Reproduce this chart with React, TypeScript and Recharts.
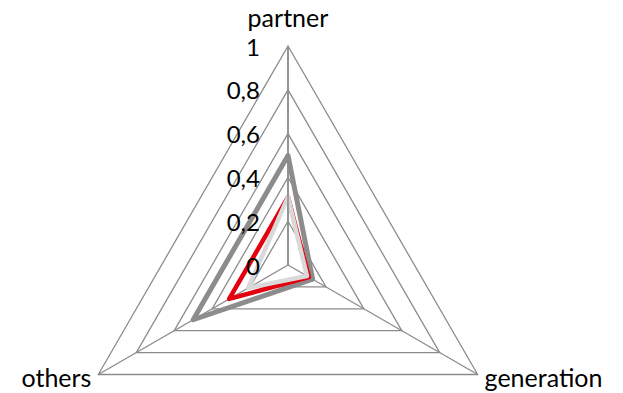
import { RadarChart, Radar, PolarGrid, PolarAngleAxis, PolarRadiusAxis } from "recharts"

const categories = ["partner", "generation", "others"]
const seriesA = [0.5, 0.13, 0.5]
const seriesB = [0.31, 0.11, 0.31]
const seriesC = [0.31, 0.1, 0.21]
const radiusTicks = [0, 0.2, 0.4, 0.6, 0.8, 1]

const data = categories.map((name, i) => ({
  name,
  a: seriesA[i],
  b: seriesB[i],
  c: seriesC[i],
}))

const font = "Lato, 'Open Sans', sans-serif"

function AngleTick(props: any) {
  const { x, y, payload, textAnchor } = props
  // baseline offsets: label above the top vertex, beside the bottom ones
  const dy = textAnchor === "middle" ? -11 : 8
  return (
    <text x={x} y={y + dy} textAnchor={textAnchor}
      fontFamily={font} fontSize={25} fill="#000">
      {payload.value}
    </text>
  )
}

function RadiusTick(props: any) {
  const { x, y, payload } = props
  const label = String(payload.value).replace(".", ",")
  return (
    <text x={x - 28} y={y} textAnchor="end" dominantBaseline="central"
      fontFamily={font} fontSize={24} fill="#000">
      {label}
    </text>
  )
}

export default function App() {
  return (
    <div style={{ position: "fixed", left: 0, top: 0, background: "#fff" }}>
      <RadarChart width={623} height={393} data={data} cx={288} cy={265} outerRadius={219}
        margin={{ top: 0, right: 0, bottom: 0, left: 0 }}>
        <PolarGrid gridType="polygon" stroke="#8c8c8c" strokeWidth={1.3} />
        <PolarAngleAxis dataKey="name" tick={<AngleTick />} tickLine={false} axisLine={false} />
        <PolarRadiusAxis angle={90} domain={[0, 1]} ticks={radiusTicks} tick={<RadiusTick />}
          axisLine={{ stroke: "#8c8c8c", strokeWidth: 1.6 }} tickLine={false} />
        <Radar dataKey="a" stroke="#8c8c8c" strokeWidth={5} fill="none" fillOpacity={0}
          strokeLinejoin="round" isAnimationActive={false} />
        <Radar dataKey="b" stroke="#e3000f" strokeWidth={4.5} fill="none" fillOpacity={0}
          strokeLinejoin="round" isAnimationActive={false} />
        <Radar dataKey="c" stroke="#d9d9d9" strokeWidth={4.5} fill="none" fillOpacity={0}
          strokeLinejoin="round" isAnimationActive={false} />
      </RadarChart>
    </div>
  )
}
